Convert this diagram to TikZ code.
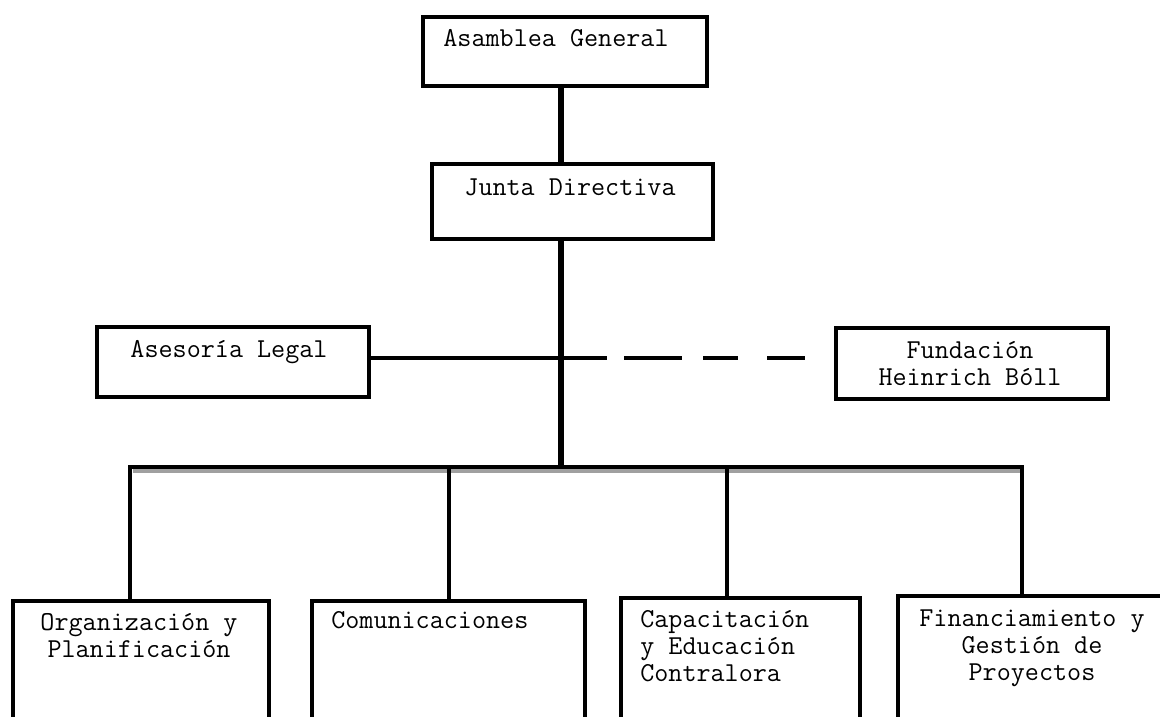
\documentclass[tikz,border=0pt]{standalone}
\usepackage{fontspec}
\definecolor{bargray}{RGB}{160,160,160}
\begin{document}
\begin{tikzpicture}[x=0.75pt,y=-0.75pt,
  orgbox/.style={draw,line width=3pt,rectangle,inner sep=0pt,anchor=north west},
  lbl/.style={inner sep=0pt,font=\ttfamily\fontsize{20.5}{20.25}\selectfont},
  link/.style={line width=3pt},
  trunk/.style={line width=4pt},
  barline/.style={line width=3.2pt,line join=miter}]
\useasboundingbox (0,0) rectangle (1160,717);
\clip (0,0) rectangle (1160,717);

% boxes
\node[orgbox,minimum width=213pt,minimum height=51.75pt] (A) at (421,15) {};
\node[orgbox,minimum width=210.75pt,minimum height=56.25pt] (J) at (430,162) {};
\node[orgbox,minimum width=204pt,minimum height=52.5pt] (L) at (95,325) {};
\node[orgbox,minimum width=204pt,minimum height=53.25pt] (F) at (834,326) {};
\node[orgbox,minimum width=192.4pt,minimum height=124pt] (O) at (10.5,599) {};
\node[orgbox,minimum width=204.75pt,minimum height=124pt] (C) at (310,599) {};
\node[orgbox,minimum width=179.25pt,minimum height=124pt] (E) at (619,596) {};
\node[orgbox,minimum width=204pt,minimum height=124pt] (P) at (896,594) {};

% texts
\node[lbl,anchor=base] (tA) at (556,47) {Asamblea General};
\node[lbl,anchor=base] (tJ) at (570,195) {Junta Directiva};
\node[lbl,anchor=base] (tL) at (229,357) {Asesoría Legal};
\node[lbl,anchor=north,align=center] (tF) at (970,339) {\strut Fundación\\Heinrich Bóll};
\node[lbl,anchor=north,align=center] (tO) at (139,611) {\strut Organización y\\Planificación};
\node[lbl,anchor=base west] (tC) at (331,628) {Comunicaciones};
\node[lbl,anchor=north west,align=left] (tE) at (640,608) {\strut Capacitación\\y Educación\\Contralora};
\node[lbl,anchor=north,align=center] (tP) at (1032,607) {\strut Financiamiento y\\Gestión de\\Proyectos};

% coordinates
\coordinate (hub) at (561,358);
\coordinate (barL) at (130,467);
\coordinate (barM) at (561,467);
\coordinate (barR) at (1022,467);
\coordinate (barC) at (449,467);
\coordinate (barE) at (727,467);

% connectors
\draw[trunk] (A.south -| hub) -- (J.north -| hub);
\draw[trunk] (J.south -| hub) -- (barM);
\draw[link] (hub -| L.east) -- (hub);
\draw[link,dash pattern=on 34.5pt off 12.75pt on 43.5pt off 15.75pt on 26.25pt off 21.75pt on 28.5pt off 30pt] (hub) -- (hub -| F.west);

% bar with shadow
\draw[line width=3pt,bargray] ([xshift=2pt,yshift=-3pt]barL) -- ([yshift=-3pt]barR);
\draw[barline] (O.north -| barL) -- (barL) -- (barR) -- (P.north -| barR);
\draw[barline] (barC) -- (C.north -| barC);
\draw[barline] (barE) -- (E.north -| barE);
\end{tikzpicture}
\end{document}
